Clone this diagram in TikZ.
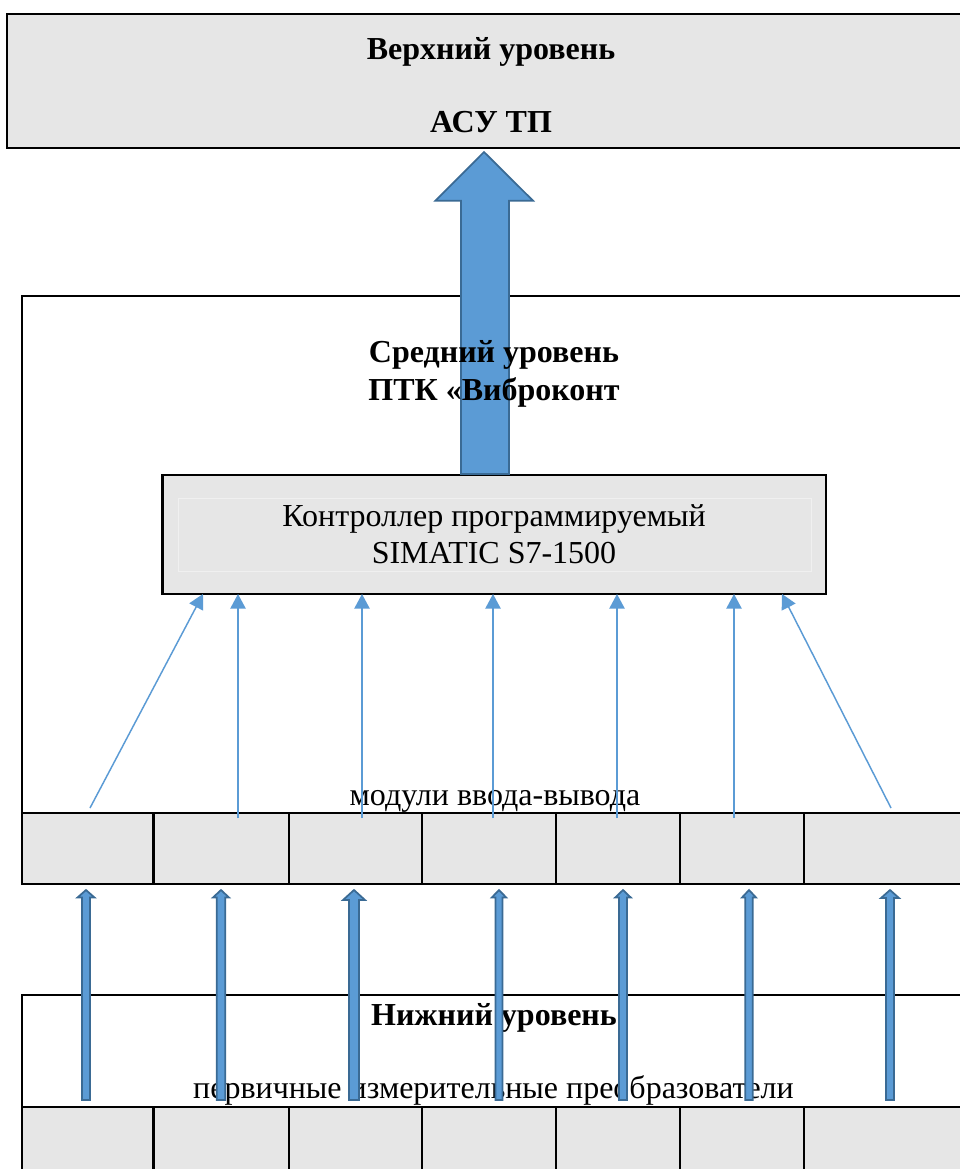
\documentclass[tikz,border=0pt]{standalone}
\usepackage{fontspec}
\setmainfont{Liberation Serif}
\usetikzlibrary{arrows.meta}
\definecolor{boxgray}{HTML}{E6E6E6}
\definecolor{faintline}{HTML}{F0F0F0}
\definecolor{abluefill}{HTML}{5B9BD5}
\definecolor{abluedraw}{HTML}{3A6A94}
\begin{document}
\begin{tikzpicture}[x=0.75pt,y=-0.75pt,
  frame/.style={draw=black,line width=1.7pt},
  cellbox/.style={draw=black,line width=1.7pt,fill=boxgray},
  thinarrow/.style={draw=abluefill,line width=1.1pt,-{Triangle[length=11pt,width=11.5pt]}},
  hdr/.style={font=\bfseries\fontsize{24}{28}\selectfont,inner sep=0pt,anchor=base},
  txt/.style={font=\fontsize{24}{28}\selectfont,inner sep=0pt,anchor=base},
  blockarrow/.style={fill=abluefill,draw=abluedraw,line width=1.3pt,line join=miter}
]
\useasboundingbox (0,0) rectangle (959,1169);

% ---------- top level ----------
\draw[cellbox] (7,14) rectangle (980,147.7);
\coordinate (topbot) at (484,152);

% ---------- middle level frame ----------
\draw[frame,fill=white] (22,296) rectangle (980,884);
% I/O module cells
\foreach \a/\b in {22/153.5,153.5/288.7,288.7/422,422/556,556/680,680/803.7,803.7/980}{
  \draw[cellbox] (\a,813) rectangle (\b,884);
}

% ---------- bottom level frame ----------
\draw[frame,fill=white] (22,995) rectangle (980,1190);
\foreach \a/\b in {22/153.5,153.5/288.7,288.7/422,422/556,556/680,680/803.7,803.7/980}{
  \draw[cellbox] (\a,1107) rectangle (\b,1190);
}

% ---------- controller ----------
\node (ctrl) [cellbox,minimum width=497.6pt,minimum height=89.25pt,inner sep=0pt] at (494.25,534.5) {};
\draw[faintline,line width=0.6pt] (178,498) rectangle (811,571);
\coordinate (ctrltop) at (485,475);

% ---------- big arrow to upper level ----------
\draw[blockarrow] (461,474) -- (461,200.7) -- (435.5,200.7) -- (topbot)
  -- (533,200.7) -- (509,200.7) -- (509,474) -- cycle;

% ---------- texts ----------
\node[hdr] (t1) at (491,60) {Верхний уровень};
\node[hdr] (t2) at (491,132.5) {АСУ ТП};
\node[hdr] (t3) at (494,362.7) {Средний уровень};
\node[hdr] (t4) at (494,400) {ПТК «Виброконт};
\node[txt] (t5) at (494,526.7) {Контроллер программируемый};
\node[txt] (t6) at (494,563.5) {SIMATIC S7-1500};
\node[txt] (t7) at (495,805) {модули ввода-вывода};
\node[hdr] (t8) at (494,1025.7) {Нижний уровень};
\node[txt] (t9) at (493.5,1098.3) {первичные измерительные преобразователи};

% ---------- thin arrows modules -> controller ----------
\coordinate (m1) at (90,808);   \coordinate (c1) at (203,594);
\coordinate (m2) at (238,818);  \coordinate (c2) at (238,594);
\coordinate (m3) at (362,818);  \coordinate (c3) at (362,594);
\coordinate (m4) at (493,818);  \coordinate (c4) at (493,594);
\coordinate (m5) at (617,818);  \coordinate (c5) at (617,594);
\coordinate (m6) at (734,818);  \coordinate (c6) at (734,594);
\coordinate (m7) at (891,808);  \coordinate (c7) at (782,594);
\foreach \i in {1,...,7}{ \draw[thinarrow] (m\i) -- (c\i); }

% ---------- block arrows sensors -> modules ----------
\foreach \cx/\sw/\hw/\hb in {86/4/8.5/897.5, 221/4.3/8/897.5, 354/5/11/900, 499/3.5/7.2/897.5, 623/4/7.8/897.5, 749/3.8/7/897.5, 890/4/9/898}{
  \draw[blockarrow] (\cx-\sw,1100) -- (\cx-\sw,\hb) -- (\cx-\hw,\hb) -- (\cx,890)
    -- (\cx+\hw,\hb) -- (\cx+\sw,\hb) -- (\cx+\sw,1100) -- cycle;
}
\end{tikzpicture}
\end{document}
